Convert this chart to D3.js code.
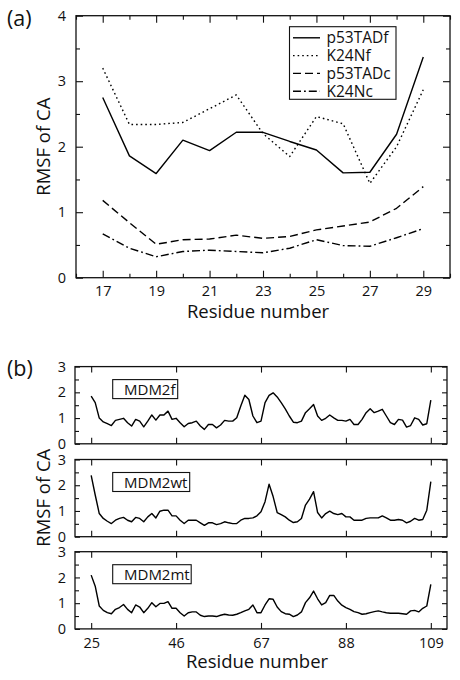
<!DOCTYPE html>
<html><head><meta charset="utf-8">
<script src="https://cdn.jsdelivr.net/npm/d3@7"></script>
<style>
body{margin:0;background:#fff;}
svg{display:block;font-family:'Open Sans',sans-serif;}
</style>
</head><body>
<svg id="c" width="460" height="680"></svg>
<script>
// ---------- Panel (a) data ----------
const residuesA = [17,18,19,20,21,22,23,24,25,26,27,28,29];
const p53TADf = [2.75,1.86,1.59,2.10,1.94,2.22,2.22,2.08,1.95,1.60,1.61,2.19,3.37];
const K24Nf   = [3.20,2.34,2.34,2.37,2.58,2.79,2.20,1.85,2.46,2.35,1.44,2.00,2.87];
const p53TADc = [1.18,0.84,0.51,0.58,0.59,0.65,0.60,0.63,0.73,0.79,0.85,1.06,1.39];
const K24Nc   = [0.67,0.45,0.32,0.40,0.42,0.40,0.38,0.45,0.58,0.49,0.48,0.61,0.75];
const seriesNamesA = ["p53TADf","K24Nf","p53TADc","K24Nc"];
const xTicksA = [17,19,21,23,25,27,29];
const xMinorA = [16,18,20,22,24,26,28,30];
const yTicksA = [0,1,2,3,4];
const yMinorA = [0.5,1.5,2.5,3.5];

// ---------- Panel (b) data ----------
const residuesB = d3.range(25, 110);
const MDM2f = [1.85,1.60,1.00,0.85,0.78,0.71,0.91,0.95,0.99,0.82,
               0.69,0.95,0.88,0.66,0.88,1.12,0.92,1.12,1.12,1.27,
               0.95,0.99,0.82,0.66,0.79,0.82,0.88,0.69,0.56,0.75,
               0.75,0.62,0.73,0.91,0.88,0.88,1.01,1.47,1.89,1.72,
               1.08,0.82,0.88,1.60,1.88,1.98,1.82,1.60,1.36,1.08,
               0.84,0.82,0.88,1.21,1.36,1.53,1.08,0.91,0.99,1.12,
               1.01,0.91,0.91,0.88,0.95,0.75,0.75,0.95,1.21,1.36,
               1.21,1.27,1.34,1.08,0.82,0.75,0.95,0.92,0.65,0.71,
               1.01,0.95,0.73,0.78,1.70];
const MDM2wt = [2.38,1.62,0.90,0.71,0.60,0.51,0.64,0.71,0.75,0.64,
                0.58,0.75,0.71,0.58,0.77,0.90,0.73,0.99,1.03,1.03,
                0.81,0.81,0.64,0.51,0.64,0.64,0.64,0.54,0.44,0.54,
                0.54,0.47,0.51,0.58,0.54,0.51,0.51,0.64,0.71,0.71,
                0.73,0.81,0.97,1.36,2.04,1.56,0.94,0.86,0.77,0.64,
                0.55,0.58,0.71,1.23,1.46,1.75,0.94,0.73,0.90,0.99,
                0.90,0.86,0.90,0.77,0.77,0.64,0.64,0.64,0.71,0.73,
                0.73,0.73,0.81,0.73,0.64,0.64,0.67,0.64,0.54,0.60,
                0.71,0.64,0.67,1.03,2.14];
const MDM2mt = [2.09,1.66,0.89,0.72,0.63,0.59,0.76,0.83,0.95,0.76,
                0.63,0.93,0.85,0.63,0.80,1.02,0.86,0.99,0.99,1.06,
                0.80,0.80,0.63,0.50,0.63,0.66,0.66,0.53,0.48,0.50,
                0.50,0.48,0.53,0.57,0.54,0.53,0.57,0.63,0.70,0.76,
                0.93,0.63,0.63,0.93,1.17,1.15,0.85,0.67,0.59,0.57,
                0.48,0.54,0.66,1.02,1.21,1.47,1.17,0.93,1.02,1.30,
                1.30,1.08,0.92,0.83,0.76,0.67,0.63,0.57,0.59,0.63,
                0.67,0.70,0.66,0.63,0.61,0.61,0.61,0.59,0.57,0.70,
                0.72,0.66,0.80,0.89,1.73];
const panelNamesB = ["MDM2f","MDM2wt","MDM2mt"];
const xTicksB = [25,46,67,88,109];
const yTicksB = [0,1,2,3];
const yMinorB = [0.5,1.5,2.5];

// ---------- drawing ----------
const svg = d3.select("#c");
const FS_TICK = 14.5, FS_TITLE = 18.5;
const dashes = ["none","1.6,3","8,4","8,3,1.8,3"];

function styleAxis(g){
  g.select(".domain").remove();
  g.selectAll(".tick line").attr("stroke","#111").attr("stroke-width",1.1);
  g.selectAll(".tick text").attr("font-size",FS_TICK).attr("fill","#111")
    .attr("font-family","'Open Sans',sans-serif");
}

function frame(x, y){
  const [x0,x1] = x.range(), [y0,y1] = y.range();
  svg.append("rect").attr("x",x0).attr("y",y1).attr("width",x1-x0).attr("height",y0-y1)
    .attr("fill","none").attr("stroke","#111").attr("stroke-width",1.3);
}

// Panel (a)
const A = {l:76, r:450, t:15.7, b:277.7};
const xA = d3.scaleLinear().domain([16,30]).range([A.l,A.r]);
const yA = d3.scaleLinear().domain([0,4]).range([A.b,A.t]);

svg.append("g").attr("transform",`translate(0,${A.b})`)
  .call(d3.axisBottom(xA).tickValues(xTicksA).tickSize(-7).tickPadding(8.5).tickFormat(d3.format("d"))).call(styleAxis);
svg.append("g").attr("transform",`translate(0,${A.b})`)
  .call(d3.axisBottom(xA).tickValues(xMinorA).tickSize(-4).tickFormat("")).call(styleAxis);
svg.append("g").attr("transform",`translate(0,${A.t})`)
  .call(d3.axisTop(xA).tickValues(xTicksA).tickSize(-7).tickFormat("")).call(styleAxis);
svg.append("g").attr("transform",`translate(0,${A.t})`)
  .call(d3.axisTop(xA).tickValues(xMinorA).tickSize(-4).tickFormat("")).call(styleAxis);
svg.append("g").attr("transform",`translate(${A.l},0)`)
  .call(d3.axisLeft(yA).tickValues(yTicksA).tickSize(-7).tickPadding(10).tickFormat(d3.format("d"))).call(styleAxis);
svg.append("g").attr("transform",`translate(${A.l},0)`)
  .call(d3.axisLeft(yA).tickValues(yMinorA).tickSize(-4).tickFormat("")).call(styleAxis);
svg.append("g").attr("transform",`translate(${A.r},0)`)
  .call(d3.axisRight(yA).tickValues(yTicksA).tickSize(-7).tickFormat("")).call(styleAxis);
svg.append("g").attr("transform",`translate(${A.r},0)`)
  .call(d3.axisRight(yA).tickValues(yMinorA).tickSize(-4).tickFormat("")).call(styleAxis);
frame(xA,yA);

const seriesA = [p53TADf, K24Nf, p53TADc, K24Nc];
const lineA = d3.line().x((d,i)=>xA(residuesA[i])).y(d=>yA(d));
seriesA.forEach((s,k)=>{
  svg.append("path").datum(s).attr("d",lineA).attr("fill","none")
    .attr("stroke","#000").attr("stroke-width",1.4)
    .attr("stroke-dasharray",dashes[k]).attr("stroke-linejoin","round");
});

// legend (a)
const lg = svg.append("g");
lg.append("rect").attr("x",289.5).attr("y",26.7).attr("width",106.5).attr("height",72.6)
  .attr("fill","#fff").attr("stroke","#111").attr("stroke-width",1.1);
seriesNamesA.forEach((n,k)=>{
  const yb = 43.3 + k*17.8;
  lg.append("line").attr("x1",293).attr("x2",320).attr("y1",yb-5.5).attr("y2",yb-5.5)
    .attr("stroke","#000").attr("stroke-width",1.4).attr("stroke-dasharray",dashes[k]);
  lg.append("text").attr("x",326.5).attr("y",yb).attr("font-size",15.5).attr("fill","#111").text(n);
});

svg.append("text").attr("x",7).attr("y",26).attr("font-size",21.5).attr("fill","#111").text("(a)");
svg.append("text").attr("transform",`translate(50,${(A.t+A.b)/2}) rotate(-90)`)
  .attr("text-anchor","middle").attr("font-size",FS_TITLE).attr("fill","#111").text("RMSF of CA");
svg.append("text").attr("x",258).attr("y",318.3).attr("text-anchor","middle")
  .attr("font-size",FS_TITLE).attr("fill","#111").text("Residue number");

// Panel (b)
const B = {l:75, r:447};
const topsB = [366.6, 459.5, 551.7];
const hB = 77.2;
const xB = d3.scaleLinear().domain([21,113]).range([B.l,B.r]);
const seriesB = [MDM2f, MDM2wt, MDM2mt];
const boxW = [65, 77, 78.5];

seriesB.forEach((s,k)=>{
  const t = topsB[k], b = t + hB;
  const yB = d3.scaleLinear().domain([0,3]).range([b,t]);
  const last = k === seriesB.length-1;
  svg.append("g").attr("transform",`translate(0,${b})`)
    .call(d3.axisBottom(xB).tickValues(xTicksB).tickSize(-6).tickPadding(8.5)
      .tickFormat(last ? d3.format("d") : "")).call(styleAxis);
  svg.append("g").attr("transform",`translate(0,${t})`)
    .call(d3.axisTop(xB).tickValues(xTicksB).tickSize(-6).tickFormat("")).call(styleAxis);
  svg.append("g").attr("transform",`translate(${B.l},0)`)
    .call(d3.axisLeft(yB).tickValues(yTicksB).tickSize(-5).tickPadding(9).tickFormat(d3.format("d"))).call(styleAxis);
  svg.append("g").attr("transform",`translate(${B.l},0)`)
    .call(d3.axisLeft(yB).tickValues(yMinorB).tickSize(-4).tickFormat("")).call(styleAxis);
  svg.append("g").attr("transform",`translate(${B.r},0)`)
    .call(d3.axisRight(yB).tickValues(yTicksB).tickSize(-5).tickFormat("")).call(styleAxis);
  svg.append("g").attr("transform",`translate(${B.r},0)`)
    .call(d3.axisRight(yB).tickValues(yMinorB).tickSize(-4).tickFormat("")).call(styleAxis);
  frame(xB,yB);
  const line = d3.line().x((d,i)=>xB(residuesB[i])).y(d=>yB(d));
  svg.append("path").datum(s).attr("d",line).attr("fill","none")
    .attr("stroke","#000").attr("stroke-width",1.4).attr("stroke-linejoin","round");
  svg.append("rect").attr("x",112.7).attr("y",t+13).attr("width",boxW[k]).attr("height",19)
    .attr("fill","#fff").attr("stroke","#111").attr("stroke-width",1.1);
  svg.append("text").attr("x",124).attr("y",t+28).attr("font-size",15).attr("fill","#111").text(panelNamesB[k]);
});

svg.append("text").attr("x",7).attr("y",376).attr("font-size",21.5).attr("fill","#111").text("(b)");
svg.append("text").attr("transform",`translate(50,${(topsB[0]+topsB[2]+hB)/2}) rotate(-90)`)
  .attr("text-anchor","middle").attr("font-size",FS_TITLE).attr("fill","#111").text("RMSF of CA");
svg.append("text").attr("x",257).attr("y",668).attr("text-anchor","middle")
  .attr("font-size",FS_TITLE).attr("fill","#111").text("Residue number");
</script>
</body></html>
